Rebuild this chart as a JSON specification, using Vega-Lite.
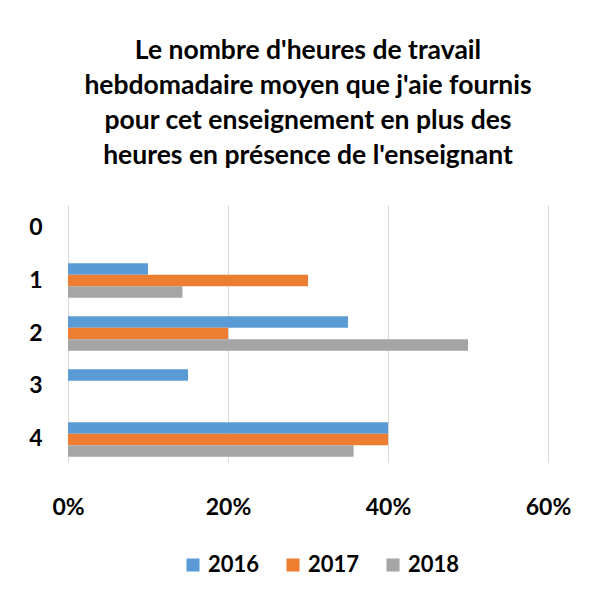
{
  "$schema": "https://vega.github.io/schema/vega-lite/v6.json",
  "autosize": {"type": "none"},
  "width": 480,
  "height": 257,
  "padding": {"left": 68, "top": 205, "right": 47, "bottom": 136},
  "background": "white",
  "title": {
    "text": ["Le nombre d'heures de travail", "hebdomadaire moyen que j'aie fournis", "pour cet enseignement en plus des", "heures en présence de l'enseignant"],
    "font": "Lato",
    "fontSize": 26.5,
    "fontWeight": "bold",
    "color": "#000000",
    "lineHeight": 35,
    "anchor": "middle",
    "offset": 36
  },
  "data": {
    "values": [
      {"cat": "1", "year": "2016", "value": 0.10},
      {"cat": "1", "year": "2017", "value": 0.30},
      {"cat": "1", "year": "2018", "value": 0.143},
      {"cat": "2", "year": "2016", "value": 0.35},
      {"cat": "2", "year": "2017", "value": 0.20},
      {"cat": "2", "year": "2018", "value": 0.50},
      {"cat": "3", "year": "2016", "value": 0.15},
      {"cat": "4", "year": "2016", "value": 0.40},
      {"cat": "4", "year": "2017", "value": 0.40},
      {"cat": "4", "year": "2018", "value": 0.357}
    ]
  },
  "mark": {"type": "bar"},
  "encoding": {
    "y": {
      "field": "cat",
      "type": "nominal",
      "scale": {"domain": ["0", "1", "2", "3", "4"], "paddingInner": 0.35, "paddingOuter": 0.1},
      "axis": {
        "title": null,
        "domain": false,
        "ticks": false,
        "labelFont": "Lato",
        "labelFontSize": 23,
        "labelFontWeight": "bold",
        "labelColor": "#000000",
        "labelPadding": 26
      }
    },
    "yOffset": {
      "field": "year",
      "type": "nominal",
      "scale": {"domain": ["2016", "2017", "2018"], "paddingInner": 0, "paddingOuter": 0}
    },
    "x": {
      "field": "value",
      "type": "quantitative",
      "scale": {"domain": [0, 0.6], "nice": false},
      "axis": {
        "title": null,
        "format": ".0%",
        "values": [0, 0.2, 0.4, 0.6],
        "domain": false,
        "ticks": false,
        "grid": true,
        "gridColor": "#D9D9D9",
        "gridWidth": 1,
        "labelFlush": false,
        "labelFont": "Lato",
        "labelFontSize": 23,
        "labelFontWeight": "bold",
        "labelColor": "#000000",
        "labelPadding": 34
      }
    },
    "color": {
      "field": "year",
      "type": "nominal",
      "scale": {"domain": ["2016", "2017", "2018"], "range": ["#5B9BD5", "#ED7D31", "#A5A5A5"]},
      "legend": {
        "title": null,
        "orient": "none",
        "legendX": 114,
        "legendY": 349,
        "direction": "horizontal",
        "symbolType": "square",
        "symbolSize": 170,
        "symbolStrokeWidth": 0,
        "labelFont": "Lato",
        "labelFontSize": 22,
        "labelFontWeight": "bold",
        "labelColor": "#000000",
        "labelOffset": 4,
        "columnPadding": 22
      }
    }
  },
  "config": {
    "view": {"stroke": null},
    "axis": {"gridColor": "#D9D9D9"}
  }
}
